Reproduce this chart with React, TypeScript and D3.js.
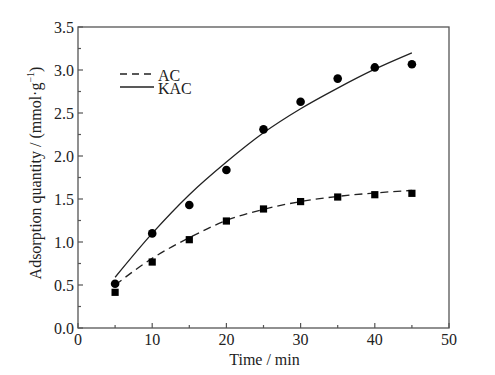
import React from "react";
import * as d3 from "d3";

const timeMin = [5, 10, 15, 20, 25, 30, 35, 40, 45];
const acValues = [0.415, 0.767, 1.027, 1.244, 1.384, 1.47, 1.523, 1.55, 1.566];
const kacValues = [0.515, 1.1, 1.43, 1.837, 2.31, 2.63, 2.9, 3.03, 3.066];
const fitTime = [5, 10, 15, 20, 25, 30, 35, 40, 45];
const acFit = [0.5, 0.81, 1.05, 1.25, 1.38, 1.47, 1.53, 1.57, 1.6];
const kacFit = [0.59, 1.1, 1.55, 1.93, 2.27, 2.55, 2.79, 3.01, 3.2];
const xTicks = [0, 10, 20, 30, 40, 50];
const yTicks = [0, 0.5, 1, 1.5, 2, 2.5, 3, 3.5];
const legendLabels = ["AC", "KAC"];

const W = 495;
const H = 375;
const M = { left: 78, right: 449, top: 27, bottom: 328 };
const FONT = "'Liberation Serif', 'Times New Roman', serif";

export default function App() {
  const x = d3.scaleLinear().domain([0, 50]).range([M.left, M.right]);
  const y = d3.scaleLinear().domain([0, 3.5]).range([M.bottom, M.top]);
  const line = d3
    .line<number>()
    .x((_, i) => x(fitTime[i]))
    .y((d) => y(d))
    .curve(d3.curveMonotoneX);
  const xMinor = d3.range(5, 50, 10);
  const yMinor = d3.range(0.25, 3.5, 0.5);
  const axisColor = "#555";

  return (
    <svg width={W} height={H} style={{ position: "absolute", left: 0, top: 0, background: "#fff" }}>
      <rect x={0} y={0} width={W} height={H} fill="#fff" />
      {/* fit lines */}
      <path d={line(acFit) || ""} fill="none" stroke="#222" strokeWidth={1.3} strokeDasharray="8,5" />
      <path d={line(kacFit) || ""} fill="none" stroke="#222" strokeWidth={1.3} />
      {/* points */}
      {timeMin.map((t, i) => (
        <rect key={"s" + i} x={x(t) - 3.6} y={y(acValues[i]) - 3.6} width={7.2} height={7.2} fill="#000" />
      ))}
      {timeMin.map((t, i) => (
        <circle key={"c" + i} cx={x(t)} cy={y(kacValues[i])} r={4.3} fill="#000" />
      ))}
      {/* frame */}
      <rect x={M.left} y={M.top} width={M.right - M.left} height={M.bottom - M.top} fill="none" stroke={axisColor} strokeWidth={1.3} />
      {/* x ticks */}
      {xTicks.map((t) => (
        <g key={"xt" + t}>
          <line x1={x(t)} x2={x(t)} y1={M.bottom} y2={M.bottom - 5} stroke={axisColor} strokeWidth={1.2} />
          <text x={x(t)} y={345} textAnchor="middle" fontFamily={FONT} fontSize={16} fill="#222">
            {t}
          </text>
        </g>
      ))}
      {xMinor.map((t) => (
        <line key={"xm" + t} x1={x(t)} x2={x(t)} y1={M.bottom} y2={M.bottom - 3} stroke={axisColor} strokeWidth={1.2} />
      ))}
      {/* y ticks */}
      {yTicks.map((t) => (
        <g key={"yt" + t}>
          <line x1={M.left} x2={M.left + 5} y1={y(t)} y2={y(t)} stroke={axisColor} strokeWidth={1.2} />
          <text x={74} y={y(t) + 5.5} textAnchor="end" fontFamily={FONT} fontSize={16} fill="#222">
            {t.toFixed(1)}
          </text>
        </g>
      ))}
      {yMinor.map((t) => (
        <line key={"ym" + t} x1={M.left} x2={M.left + 3} y1={y(t)} y2={y(t)} stroke={axisColor} strokeWidth={1.2} />
      ))}
      {/* axis titles */}
      <text x={(M.left + M.right) / 2 + 1} y={365} textAnchor="middle" fontFamily={FONT} fontSize={16} fill="#222">
        Time / min
      </text>
      <text
        transform={`translate(41, ${173}) rotate(-90)`}
        textAnchor="middle"
        fontFamily={FONT}
        fontSize={16}
        fill="#222"
      >
        Adsorption quantity / (mmol·g
        <tspan fontSize={10} dy={-7}>−1</tspan>
        <tspan dy={7}>)</tspan>
      </text>
      {/* legend */}
      <line x1={120} x2={154} y1={74} y2={74} stroke="#222" strokeWidth={1.3} strokeDasharray="7,5" />
      <text x={158} y={81} fontFamily={FONT} fontSize={16} fill="#222">
        {legendLabels[0]}
      </text>
      <line x1={120} x2={154} y1={87} y2={87} stroke="#222" strokeWidth={1.3} />
      <text x={158} y={94} fontFamily={FONT} fontSize={16} fill="#222">
        {legendLabels[1]}
      </text>
    </svg>
  );
}
